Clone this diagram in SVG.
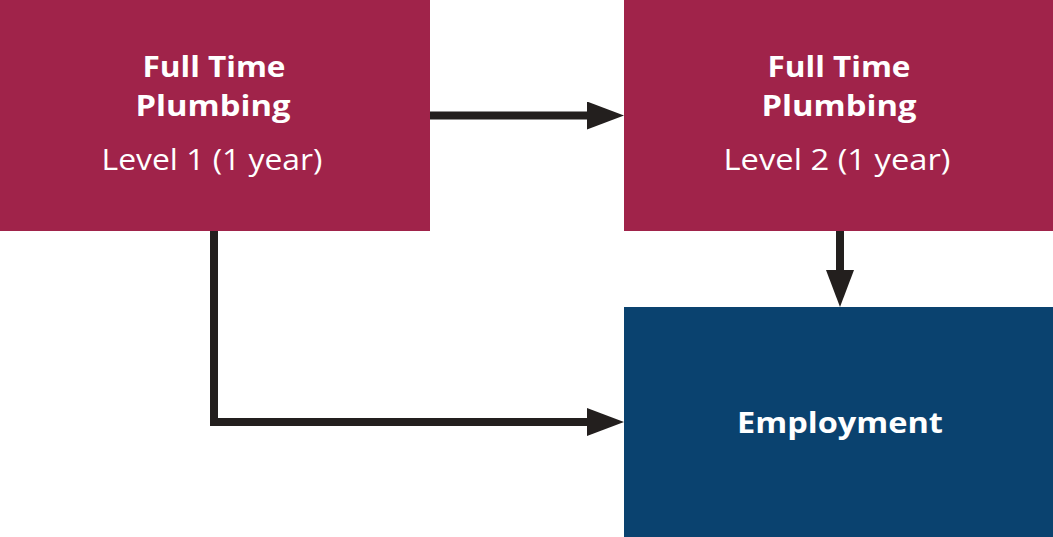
<svg xmlns="http://www.w3.org/2000/svg" width="1053" height="537" viewBox="0 0 1053 537">
<style>
.red{fill:#A0234A}
.blue{fill:#0A426F}
.t{font-family:"Open Sans","Noto Sans","Liberation Sans",sans-serif;fill:#ffffff;text-anchor:middle;font-size:29px}
.b{font-weight:700}
.r{font-weight:400}
.c{fill:none;stroke:#231F1E;stroke-width:8}
</style>
<defs>
<marker id="ah" markerUnits="userSpaceOnUse" markerWidth="38" markerHeight="28" refX="3" refY="14" orient="auto">
<path d="M0,0 L37,14 L0,28 Z" fill="#231F1E"/>
</marker>
</defs>
<rect width="1053" height="537" fill="#ffffff"/>
<g id="connectors">
<path class="c" d="M430,115.5 H590" marker-end="url(#ah)"/>
<path class="c" d="M840,231 V273" marker-end="url(#ah)"/>
<path class="c" d="M214,231 V422 H590" marker-end="url(#ah)"/>
</g>
<g id="node-level1">
<rect class="red" x="0" y="0" width="430" height="231"/>
<text class="t b" x="214" y="77" textLength="143" lengthAdjust="spacingAndGlyphs">Full Time</text>
<text class="t b" x="213" y="116" textLength="155" lengthAdjust="spacingAndGlyphs">Plumbing</text>
<text class="t r" x="212" y="170" textLength="221" lengthAdjust="spacingAndGlyphs">Level 1 (1 year)</text>
</g>
<g id="node-level2">
<rect class="red" x="624" y="0" width="429" height="231"/>
<text class="t b" x="839" y="77" textLength="143" lengthAdjust="spacingAndGlyphs">Full Time</text>
<text class="t b" x="839" y="116" textLength="155" lengthAdjust="spacingAndGlyphs">Plumbing</text>
<text class="t r" x="837" y="170" textLength="227" lengthAdjust="spacingAndGlyphs">Level 2 (1 year)</text>
</g>
<g id="node-employment">
<rect class="blue" x="624" y="307" width="429" height="230"/>
<text class="t b" x="840" y="433" textLength="206" lengthAdjust="spacingAndGlyphs">Employment</text>
</g>
</svg>
